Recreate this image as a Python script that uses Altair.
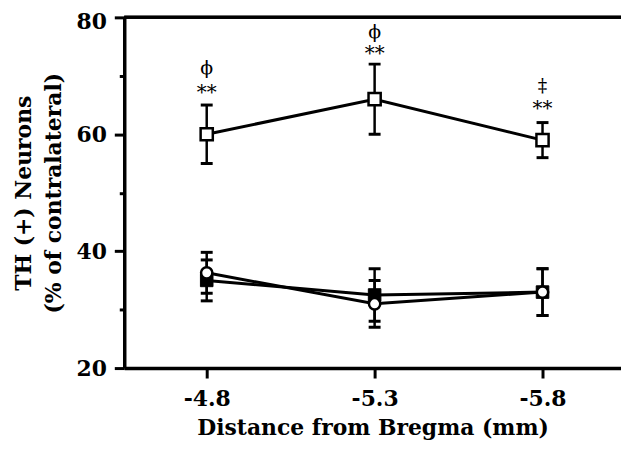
import altair as alt
import pandas as pd

# ---- data ----
distance = [-4.8, -5.3, -5.8]

open_sq_mean = [60.0, 66.0, 59.0]
open_sq_err = [5.0, 6.0, 3.0]

filled_sq_mean = [35.0, 32.5, 33.0]
filled_sq_err = [3.5, 4.5, 4.0]

circle_mean = [36.3, 31.0, 33.0]
circle_err = [3.5, 4.0, 4.0]

stars_text = ["**", "**", "**"]
stars_y = [67.1, 73.8, 64.3]
sym_text = ["\u03d5", "\u03d5", "\u2021"]
sym_y = [71.4, 77.5, 68.3]

x_ticks = [-4.8, -5.3, -5.8]
y_ticks = [20, 30, 40, 50, 60, 70, 80]

FONT = "DejaVu Serif"


def frame(series, mean, err):
    return pd.DataFrame({
        "series": series,
        "x": distance,
        "y": mean,
        "lo": [m - e for m, e in zip(mean, err)],
        "hi": [m + e for m, e in zip(mean, err)],
    })


d_open = frame("open square", open_sq_mean, open_sq_err)
d_fill = frame("filled square", filled_sq_mean, filled_sq_err)
d_circ = frame("open circle", circle_mean, circle_err)
d_ann = pd.DataFrame({"x": distance, "stars": stars_text, "sy": stars_y,
                      "sym": sym_text, "ty": sym_y})

xscale = alt.Scale(domain=[-4.5544, -6.0337], nice=False, zero=False)
yscale = alt.Scale(domain=[20, 80], nice=False, zero=False)

xaxis = alt.Axis(
    values=x_ticks,
    labelExpr="'-' + format(-datum.value, '.1f')",
    title="Distance from Bregma (mm)",
    titleFont=FONT, titleFontSize=22, titleFontWeight="bold", titleColor="black",
    titleY=67, titleBaseline="alphabetic",
    labelFont=FONT, labelFontSize=22, labelFontWeight="bold", labelColor="black",
    labelPadding=11,
    tickSize=10, tickWidth=3, tickColor="black",
    domainWidth=3.5, domainColor="black", grid=False,
)
yaxis = alt.Axis(
    values=y_ticks,
    labelExpr="datum.value % 20 == 0 ? datum.label : ''",
    title=["TH (+) Neurons", "(% of contralateral)"],
    titleFont=FONT, titleFontSize=22, titleFontWeight="bold", titleColor="black",
    titleX=-89, titleY=176.5, titleBaseline="bottom", titleLineHeight=30,
    labelFont=FONT, labelFontSize=22, labelFontWeight="bold", labelColor="black",
    labelPadding=8,
    labelOffset={"condition": {"test": "datum.value == 80", "value": 4}, "value": 0},
    tickSize={"condition": {"test": "datum.value % 20 != 0", "value": 5}, "value": 10},
    tickWidth=3, tickColor="black",
    domainWidth=3.5, domainColor="black", grid=False,
)


def layers(df, marker):
    base = alt.Chart(df)
    line = base.mark_line(color="black", strokeWidth=3).encode(
        x=alt.X("x:Q", scale=xscale, axis=xaxis),
        y=alt.Y("y:Q", scale=yscale, axis=yaxis),
    )
    rule = base.mark_rule(color="black", strokeWidth=2.5).encode(
        x="x:Q", y="lo:Q", y2="hi:Q")
    cap_lo = base.mark_tick(orient="horizontal", color="black", size=12,
                            thickness=3, opacity=1).encode(x="x:Q", y="lo:Q")
    cap_hi = base.mark_tick(orient="horizontal", color="black", size=12,
                            thickness=3, opacity=1).encode(x="x:Q", y="hi:Q")
    return [rule, cap_lo, cap_hi, line, base.mark_point(**marker).encode(x="x:Q", y="y:Q")]


open_sq_marker = dict(shape="square", filled=True, fill="white", stroke="black",
                      strokeWidth=2.5, size=150, opacity=1)
filled_sq_marker = dict(shape="square", filled=True, fill="black", stroke="black",
                        strokeWidth=1, size=160, opacity=1)
circle_marker = dict(shape="circle", filled=True, fill="white", stroke="black",
                     strokeWidth=2.5, size=130, opacity=1)

top_border = alt.Chart(d_ann).mark_rule(color="black", strokeWidth=3).encode(
    y=alt.datum(80), x=alt.value(0), x2=alt.value(500))

stars = alt.Chart(d_ann).mark_text(font=FONT, fontSize=20, color="black",
                                   baseline="middle").encode(
    x="x:Q", y="sy:Q", text="stars:N")
syms = alt.Chart(d_ann).mark_text(font=FONT, fontSize=19, color="black",
                                  baseline="middle").encode(
    x="x:Q", y="ty:Q", text="sym:N")

all_layers = (layers(d_fill, filled_sq_marker) + layers(d_circ, circle_marker)
              + layers(d_open, open_sq_marker) + [top_border, stars, syms])

chart = alt.layer(*all_layers).properties(
    width=500, height=353,
    autosize=alt.AutoSizeParams(type="none"),
    padding={"left": 117, "top": 8, "right": 0, "bottom": 76},
    background="white",
).configure_view(strokeWidth=0)

chart.save("out.html", embed_options={"renderer": "svg", "actions": False})
